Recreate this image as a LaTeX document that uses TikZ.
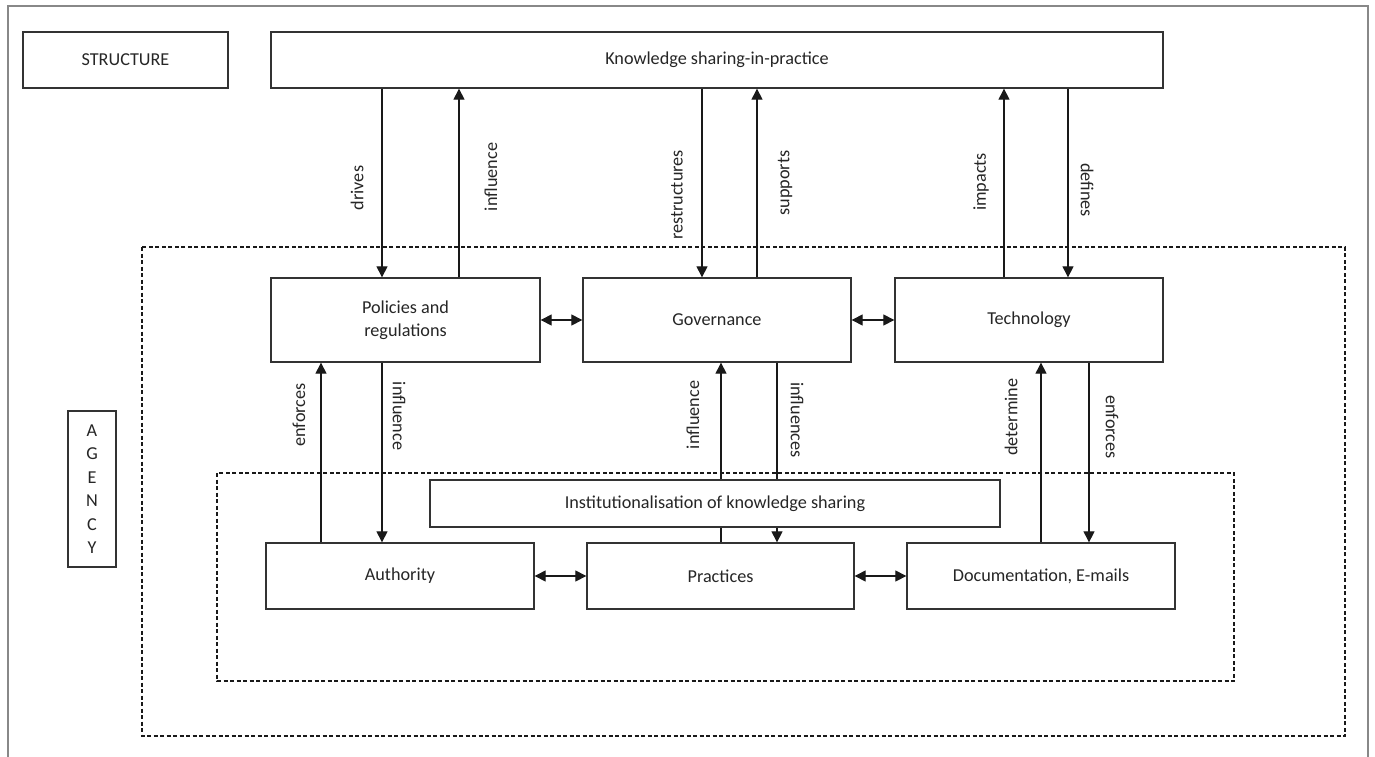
\documentclass[tikz,border=0pt]{standalone}
\usepackage{fontspec}
\setmainfont{Carlito}
\usetikzlibrary{arrows.meta}
\definecolor{boxcol}{HTML}{333333}
\definecolor{framecol}{HTML}{888888}
\begin{document}
\begin{tikzpicture}[x=1pt,y=-1pt,
  bx/.style={draw=boxcol, line width=1.3pt, fill=white, inner sep=0pt, align=center,
    font=\fontsize{18.2}{22.5}\selectfont, text=black!85},
  lab/.style={inner sep=0pt, font=\fontsize{18.2}{22}\selectfont, text=black!85},
  arr/.style={draw=black!90, line width=1.1pt, -{Triangle[length=11pt,width=11pt]}},
  darr/.style={draw=black!90, line width=1.1pt, {Triangle[length=11pt,width=11pt]}-{Triangle[length=11pt,width=11pt]}},
  dbox/.style={draw=black!90, line width=2.2pt, dash pattern=on 4pt off 2.5pt}]
\useasboundingbox (0,0) rectangle (1375,757);
\fill[white] (0,0) rectangle (1375,757);
\draw[framecol, line width=1.3pt] (8,757) -- (8,6) -- (1368,6) -- (1368,757);
% dashed regions
\draw[dbox] (142,247) rectangle (1345,736);
\draw[dbox] (217,473) rectangle (1234,681);
% boxes
\node[bx, minimum width=205pt, minimum height=56pt] (st) at (125.5,60) {STRUCTURE};
\node[bx, minimum width=892pt, minimum height=56pt] (ks) at (717,60) {Knowledge sharing-in-practice};
\node[bx, minimum width=269pt, minimum height=84pt] (pol) at (405.5,320) {Policies and\\regulations};
\node[bx, minimum width=268pt, minimum height=84pt] (gov) at (717,320) {Governance};
\node[bx, minimum width=268pt, minimum height=84pt] (tec) at (1029,320) {Technology};
\node[bx, minimum width=268pt, minimum height=66pt] (aut) at (400,576) {Authority};
\node[bx, minimum width=267pt, minimum height=66pt] (pra) at (720.5,576) {Practices};
\node[bx, minimum width=268pt, minimum height=66pt] (doc) at (1041,576) {Documentation, E-mails};
\node[bx, minimum width=48pt, minimum height=156pt, font=\fontsize{18.2}{23.5}\selectfont] (ag) at (92,489) {A\\G\\E\\N\\C\\Y};
% x positions of connectors
\coordinate (c1) at (382,0);
\coordinate (c2) at (459,0);
\coordinate (c3) at (702,0);
\coordinate (c4) at (757,0);
\coordinate (c5) at (1004,0);
\coordinate (c6) at (1068,0);
\coordinate (d1) at (321,0);
\coordinate (d2) at (382,0);
\coordinate (d3) at (721,0);
\coordinate (d4) at (777,0);
\coordinate (d5) at (1041,0);
\coordinate (d6) at (1089,0);
% top connectors
\draw[arr] (ks.south -| c1) -- (pol.north -| c1);
\draw[arr] (pol.north -| c2) -- (ks.south -| c2);
\draw[arr] (ks.south -| c3) -- (gov.north -| c3);
\draw[arr] (gov.north -| c4) -- (ks.south -| c4);
\draw[arr] (tec.north -| c5) -- (ks.south -| c5);
\draw[arr] (ks.south -| c6) -- (tec.north -| c6);
% lower connectors
\draw[arr] (aut.north -| d1) -- (pol.south -| d1);
\draw[arr] (pol.south -| d2) -- (aut.north -| d2);
\draw[arr] (pra.north -| d3) -- (gov.south -| d3);
\draw[arr] (gov.south -| d4) -- (pra.north -| d4);
\draw[arr] (doc.north -| d5) -- (tec.south -| d5);
\draw[arr] (tec.south -| d6) -- (doc.north -| d6);
% horizontal double arrows
\draw[darr] (pol.east) -- (gov.west);
\draw[darr] (gov.east) -- (tec.west);
\draw[darr] (aut.east) -- (pra.west);
\draw[darr] (pra.east) -- (doc.west);
% institutionalisation box over the connectors
\node[bx, minimum width=570pt, minimum height=47pt] (ins) at (715,503.5) {Institutionalisation of knowledge sharing};
% labels
\node[lab, rotate=90] (l1) at (357,188) {drives};
\node[lab, rotate=90] (l2) at (491,177) {influence};
\node[lab, rotate=90] (l3) at (677,195) {restructures};
\node[lab, rotate=90] (l4) at (785,183) {supports};
\node[lab, rotate=90] (l5) at (981,182) {impacts};
\node[lab, rotate=-90] (l6) at (1087,190) {defines};
\node[lab, rotate=90] (l7) at (299,415) {enforces};
\node[lab, rotate=-90] (l8) at (399,416) {influence};
\node[lab, rotate=90] (l9) at (693,415) {influence};
\node[lab, rotate=-90] (l10) at (797,420) {influences};
\node[lab, rotate=90] (l11) at (1011,417) {determine};
\node[lab, rotate=-90] (l12) at (1112,427) {enforces};
\end{tikzpicture}
\end{document}
